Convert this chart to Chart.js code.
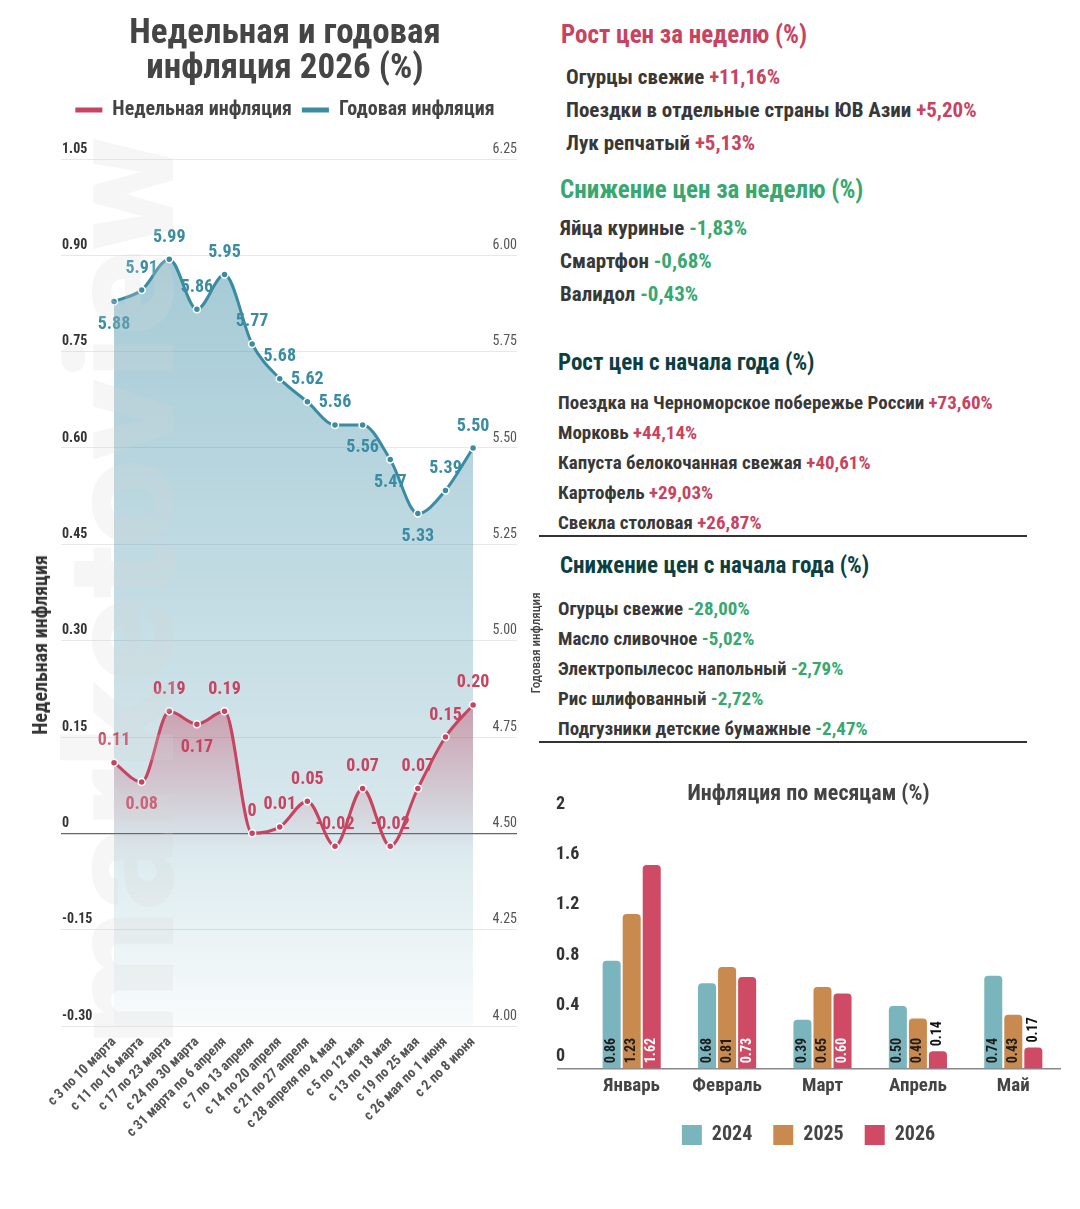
<!DOCTYPE html>
<html lang="ru">
<head>
<meta charset="UTF-8">
<title>Недельная и годовая инфляция 2026 (%)</title>
<script src="https://cdn.jsdelivr.net/npm/chart.js"></script>
<style>
  body { margin: 0; width: 1080px; height: 1209px; position: relative; overflow: hidden; background: #fff; font-family: Roboto, sans-serif; }
  .abs { position: absolute; }
  #weekBox { left: 30px; top: 0; width: 510px; height: 1160px; }
  #monthBox { left: 536px; top: 760px; width: 525px; height: 395px; }
  .ln { position: absolute; white-space: nowrap; font-weight: 700; color: #383838; line-height: 1; transform-origin: 0 50%; }
  .rule { position: absolute; left: 539px; width: 488px; height: 2px; background: #333; }
  .axisTitle { position: absolute; white-space: nowrap; transform: translate(-50%, -50%) rotate(-90deg); color: #333; }
</style>
</head>
<body>

<div id="weekBox" class="abs"><canvas id="weekChart"></canvas></div>
<div id="monthBox" class="abs"><canvas id="monthChart"></canvas></div>

<div class="axisTitle" style="left:40px; top:645px; font-size:20px; font-weight:700;">Недельная инфляция</div>
<div class="axisTitle" style="left:535px; top:643px; font-size:13px; font-weight:500; color:#444;">Годовая инфляция</div>

<svg class="abs" style="left:0; top:0; pointer-events:none;" width="540" height="1209">
  <text transform="translate(173,1045) rotate(-90)" font-family="Roboto" font-weight="900" font-size="150"
        textLength="908" lengthAdjust="spacingAndGlyphs" fill="rgba(215,215,215,0.22)">marketoview</text>
</svg>

<div id="panel"></div>

<script>
// ---- weekly / annual inflation ----
const weeks = [
  'с 3 по 10 марта', 'с 11 по 16 марта', 'с 17 по 23 марта', 'с 24 по 30 марта',
  'с 31 марта по 6 апреля', 'с 7 по 13 апреля', 'с 14 по 20 апреля', 'с 21 по 27 апреля',
  'с 28 апреля по 4 мая', 'с 5 по 12 мая', 'с 13 по 18 мая', 'с 19 по 25 мая',
  'с 26 мая по 1 июня', 'с 2 по 8 июня'
];
const weeklyInfl = [0.11, 0.08, 0.19, 0.17, 0.19, 0, 0.01, 0.05, -0.02, 0.07, -0.02, 0.07, 0.15, 0.20];
const annualInfl = [5.88, 5.91, 5.99, 5.86, 5.95, 5.77, 5.68, 5.62, 5.56, 5.56, 5.47, 5.33, 5.39, 5.50];

// ---- monthly inflation ----
const months = ['Январь', 'Февраль', 'Март', 'Апрель', 'Май'];
const m2024 = [0.86, 0.68, 0.39, 0.50, 0.74];
const m2025 = [1.23, 0.81, 0.65, 0.40, 0.43];
const m2026 = [1.62, 0.73, 0.60, 0.14, 0.17];

// ---- price lists ----
const weekUp = [['Огурцы свежие', '+11,16%'], ['Поездки в отдельные страны ЮВ Азии', '+5,20%'], ['Лук репчатый', '+5,13%']];
const weekDown = [['Яйца куриные', '-1,83%'], ['Смартфон', '-0,68%'], ['Валидол', '-0,43%']];
const ytdUp = [
  ['Поездка на Черноморское побережье России', '+73,60%'], ['Морковь', '+44,14%'],
  ['Капуста белокочанная свежая', '+40,61%'], ['Картофель', '+29,03%'], ['Свекла столовая', '+26,87%']
];
const ytdDown = [
  ['Огурцы свежие', '-28,00%'], ['Масло сливочное', '-5,02%'], ['Электропылесос напольный', '-2,79%'],
  ['Рис шлифованный', '-2,72%'], ['Подгузники детские бумажные', '-2,47%']
];

const RED = '#c8435f';
const TEAL = '#3a8ca3';
const GREEN = '#37a870';
const DARK = '#0c3f42';

function hasFont(name) {
  const c = document.createElement('canvas').getContext('2d');
  const s = 'Недельная инфляция 0123456789';
  c.font = '40px monospace';
  const a = c.measureText(s).width;
  c.font = '40px "' + name + '", monospace';
  return c.measureText(s).width !== a;
}
const condensed = hasFont('Roboto Condensed');
const FAMILY = condensed ? '"Roboto Condensed", Roboto, sans-serif' : 'Roboto, sans-serif';
const SQUEEZE = condensed ? 1 : 0.88;
Chart.defaults.font.family = FAMILY;
document.body.style.fontFamily = FAMILY;

// right-hand text blocks
const panel = document.getElementById('panel');
function addLine(x, cy, size, html, color) {
  const d = document.createElement('div');
  d.className = 'ln';
  d.style.left = x + 'px';
  d.style.top = (cy - size / 2) + 'px';
  d.style.fontSize = size + 'px';
  if (color) d.style.color = color;
  d.style.transform = 'scaleX(' + SQUEEZE + ')';
  d.innerHTML = html;
  panel.appendChild(d);
}
function addList(items, x, cy, step, size, valColor) {
  items.forEach((it, i) => addLine(x, cy + i * step, size, it[0] + ' <span style="color:' + valColor + '">' + it[1] + '</span>'));
}
addLine(561, 34, 25, 'Рост цен за неделю (%)', RED);
addList(weekUp, 566, 77, 33, 21, RED);
addLine(560, 189, 25, 'Снижение цен за неделю (%)', GREEN);
addList(weekDown, 560, 228, 33, 21, GREEN);
addLine(558, 362, 23, 'Рост цен с начала года (%)', DARK);
addList(ytdUp, 558, 402, 30, 19, RED);
addLine(560, 565, 23, 'Снижение цен с начала года (%)', DARK);
addList(ytdDown, 558, 608, 30, 19, GREEN);
[536, 742].forEach(y => {
  const r = document.createElement('div');
  r.className = 'rule';
  r.style.top = (y - 1) + 'px';
  panel.appendChild(r);
});

function grad(ctx, y0, y1, stops) {
  const g = ctx.createLinearGradient(0, y0, 0, y1);
  stops.forEach(s => g.addColorStop(s[0], s[1]));
  return g;
}

const legendGap = {
  id: 'legendGap',
  beforeInit(chart) {
    const fit = chart.legend.fit;
    chart.legend.fit = function () {
      fit.bind(chart.legend)();
      this.height += chart.options.plugins.legendGap.gap;
    };
  }
};

const pointLabels = {
  id: 'pointLabels',
  afterDatasetsDraw(chart) {
    const ctx = chart.ctx;
    chart.data.datasets.forEach((ds, di) => {
      const meta = chart.getDatasetMeta(di);
      ctx.save();
      ctx.font = 'bold 18px ' + FAMILY;
      ctx.fillStyle = ds.borderColor;
      ctx.textAlign = 'center';
      ctx.textBaseline = 'middle';
      meta.data.forEach((pt, i) => {
        const v = ds.data[i].y;
        const txt = v === 0 ? '0' : v.toFixed(2);
        const below = ds.labelsBelow.includes(i);
        ctx.fillText(txt, pt.x, pt.y + (below ? 23 : -22));
      });
      ctx.restore();
    });
  }
};

new Chart(document.getElementById('weekChart'), {
  type: 'line',
  data: {
    datasets: [
      {
        label: 'Недельная инфляция',
        data: weeklyInfl.map((v, i) => ({ x: i, y: v })),
        yAxisID: 'yW',
        borderColor: RED,
        borderWidth: 3,
        cubicInterpolationMode: 'monotone',
        pointRadius: 3.5,
        pointBackgroundColor: RED,
        pointBorderColor: '#fff',
        pointBorderWidth: 1.5,
        fill: 'start',
        labelsBelow: [1, 3],
        backgroundColor: c => {
          const sc = c.chart.scales.yW;
          if (!sc) return 'transparent';
          return grad(c.chart.ctx, sc.getPixelForValue(0.2), sc.getPixelForValue(-0.03),
            [[0, 'rgba(200,67,95,0.42)'], [0.85, 'rgba(200,67,95,0.06)'], [1, 'rgba(200,67,95,0)']]);
        }
      },
      {
        label: 'Годовая инфляция',
        data: annualInfl.map((v, i) => ({ x: i, y: v })),
        yAxisID: 'yA',
        borderColor: TEAL,
        borderWidth: 3,
        cubicInterpolationMode: 'monotone',
        pointRadius: 3.5,
        pointBackgroundColor: TEAL,
        pointBorderColor: '#fff',
        pointBorderWidth: 1.5,
        fill: 'start',
        labelsBelow: [0, 9, 10, 11],
        backgroundColor: c => {
          const a = c.chart.chartArea;
          if (!a) return 'transparent';
          return grad(c.chart.ctx, a.top, a.bottom,
            [[0, 'rgba(58,140,165,0.5)'], [0.77, 'rgba(58,140,165,0.2)'], [1, 'rgba(58,140,165,0.03)']]);
        }
      }
    ]
  },
  options: {
    responsive: true,
    maintainAspectRatio: false,
    animation: false,
    layout: { padding: 0 },
    plugins: {
      title: {
        display: true,
        text: ['Недельная и годовая', 'инфляция 2026 (%)'],
        color: '#454545',
        font: { size: 35, weight: 'bold', lineHeight: 1 },
        padding: { top: 17, bottom: 3 }
      },
      legend: {
        labels: {
          color: '#444',
          font: { size: 20, weight: 'bold' },
          boxWidth: 27,
          boxHeight: 5,
          padding: 10,
          generateLabels: chart => chart.data.datasets.map((ds, i) => ({
            text: ds.label, fillStyle: ds.borderColor, strokeStyle: ds.borderColor,
            lineWidth: 0, datasetIndex: i, fontColor: '#444'
          }))
        }
      },
      legendGap: { gap: 29 },
      tooltip: { enabled: false }
    },
    scales: {
      x: {
        type: 'linear',
        min: -1.92,
        max: 14.59,
        grid: { display: false, drawTicks: false },
        border: { display: false },
        ticks: {
          stepSize: 1,
          autoSkip: false,
          includeBounds: false,
          minRotation: 45,
          maxRotation: 45,
          padding: 8,
          color: '#555',
          font: { size: 14, weight: 'bold' },
          callback: v => (Number.isInteger(v) && weeks[v]) ? weeks[v] : ''
        },
        afterFit: s => { s.height = 134; }
      },
      yW: {
        position: 'left',
        min: -0.30,
        max: 1.05,
        border: { display: false },
        grid: {
          drawTicks: false,
          color: c => Math.abs(c.tick.value) < 1e-9 ? '#666' : '#e8e8e8',
          lineWidth: c => Math.abs(c.tick.value) < 1e-9 ? 1.2 : 1
        },
        ticks: {
          stepSize: 0.15,
          mirror: true,
          padding: 1,
          labelOffset: -10,
          color: '#333',
          font: { size: 14, weight: 'bold' },
          callback: v => Math.abs(v) < 1e-9 ? '0' : v.toFixed(2)
        },
        afterFit: s => { s.width = 31; }
      },
      yA: {
        position: 'right',
        min: 4.0,
        max: 6.25,
        border: { display: false },
        grid: { display: false, drawTicks: false },
        ticks: {
          stepSize: 0.25,
          mirror: true,
          padding: 0,
          labelOffset: -10,
          color: '#555',
          font: { size: 14 },
          callback: v => v.toFixed(2)
        },
        afterFit: s => { s.width = 23; }
      }
    }
  },
  plugins: [legendGap, pointLabels]
});

// ---- monthly bars ----
const barLabels = {
  id: 'barLabels',
  afterDatasetsDraw(chart) {
    const ctx = chart.ctx;
    chart.data.datasets.forEach((ds, di) => {
      const meta = chart.getDatasetMeta(di);
      meta.data.forEach((bar, i) => {
        const v = ds.data[i];
        const h = bar.base - bar.y;
        const inside = h > 36;
        ctx.save();
        ctx.font = 'bold 14px ' + FAMILY;
        ctx.textAlign = 'left';
        ctx.textBaseline = 'middle';
        ctx.fillStyle = inside ? ds.labelColor : '#111';
        ctx.translate(bar.x, inside ? bar.base - 5 : bar.y - 5);
        ctx.rotate(-Math.PI / 2);
        ctx.fillText(v.toFixed(2), 0, 0);
        ctx.restore();
      });
    });
  }
};

new Chart(document.getElementById('monthChart'), {
  type: 'bar',
  data: {
    labels: months,
    datasets: [
      { label: '2024', data: m2024, backgroundColor: '#7ab4bd', labelColor: '#1c1c1c' },
      { label: '2025', data: m2025, backgroundColor: '#c98a4f', labelColor: '#1c1c1c' },
      { label: '2026', data: m2026, backgroundColor: '#cf4a64', labelColor: '#fff' }
    ]
  },
  options: {
    responsive: true,
    maintainAspectRatio: false,
    animation: false,
    layout: { padding: { left: 20 } },
    datasets: {
      bar: {
        categoryPercentage: 0.63,
        barPercentage: 0.9,
        borderRadius: { topLeft: 4, topRight: 4 },
        borderSkipped: 'bottom'
      }
    },
    plugins: {
      title: {
        display: true,
        text: 'Инфляция по месяцам (%)',
        color: '#444',
        font: { size: 22, weight: 'bold', lineHeight: 1 },
        padding: { top: 23, bottom: 12 }
      },
      legend: {
        position: 'bottom',
        labels: {
          color: '#444',
          font: { size: 20, weight: 'bold' },
          boxWidth: 20,
          boxHeight: 20,
          padding: 21
        }
      },
      tooltip: { enabled: false }
    },
    scales: {
      x: {
        grid: { display: false, drawTicks: false },
        border: { display: false },
        ticks: { color: '#444', font: { size: 19, weight: 'bold' }, padding: 6 },
        afterFit: s => { s.height = 35; }
      },
      y: {
        min: 0,
        max: 2,
        border: { display: false },
        grid: {
          color: c => c.tick.value === 0 ? '#888' : 'transparent',
          tickColor: c => c.tick.value === 0 ? '#888' : 'transparent',
          tickLength: 27,
          lineWidth: 1.5
        },
        ticks: {
          stepSize: 0.4,
          crossAlign: 'far',
          labelOffset: -13,
          color: '#333',
          font: { size: 18, weight: 'bold' },
          callback: v => v === 0 ? '0' : String(+v.toFixed(1))
        },
        afterFit: s => { s.width = 28; }
      }
    }
  },
  plugins: [barLabels]
});
</script>
</body>
</html>
